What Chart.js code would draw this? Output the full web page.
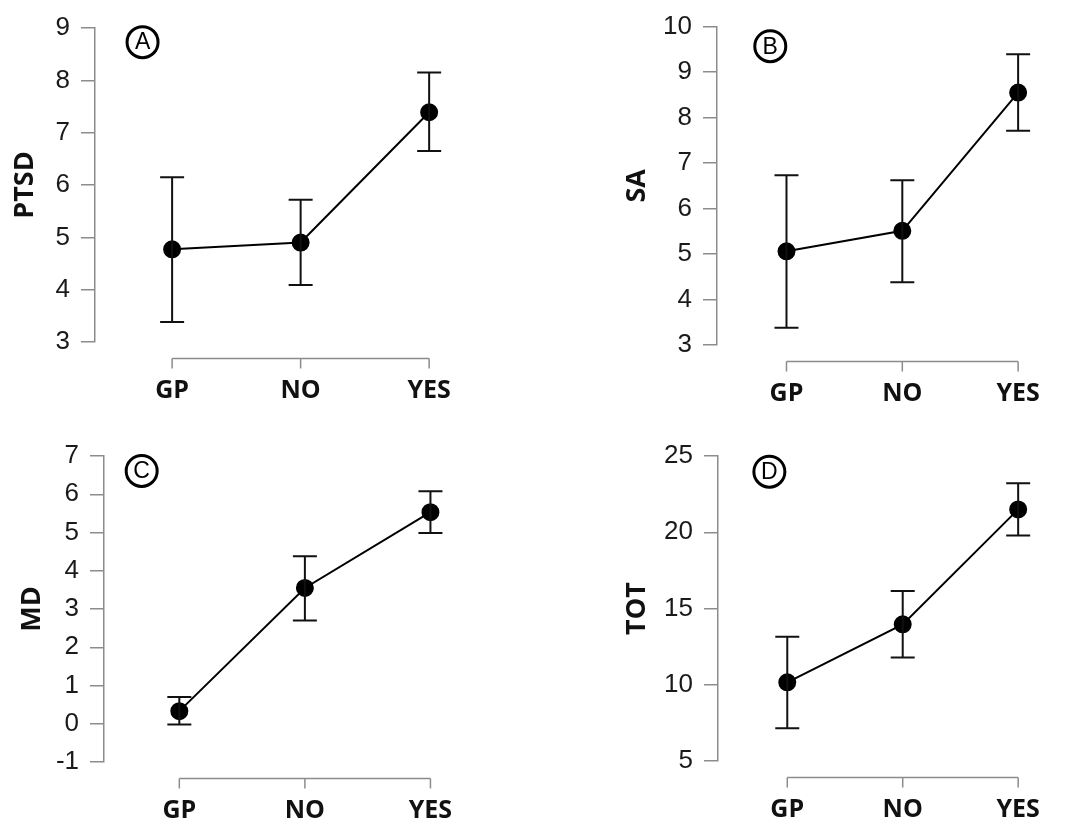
<!DOCTYPE html>
<html>
<head>
<meta charset="utf-8">
<script src="https://cdn.jsdelivr.net/npm/chart.js@4.4.1/dist/chart.umd.min.js"></script>
<style>
  body { margin: 0; background: #fff; }
  #wrap { position: relative; width: 1075px; height: 823px; }
  #wrap canvas { position: absolute; left: 0; top: 0; }
</style>
</head>
<body>
<div id="wrap">
  <canvas id="cA" width="1075" height="823"></canvas>
  <canvas id="cB" width="1075" height="823"></canvas>
  <canvas id="cC" width="1075" height="823"></canvas>
  <canvas id="cD" width="1075" height="823"></canvas>
</div>
<script>
// groups on the x axis
const groups = ["GP", "NO", "YES"];

// means and error bar ends
const ptsdMean = [4.77, 4.90, 7.39];
const ptsdLow  = [3.38, 4.09, 6.65];
const ptsdHigh = [6.15, 5.72, 8.15];

const saMean = [5.06, 5.51, 8.55];
const saLow  = [3.38, 4.38, 7.71];
const saHigh = [6.73, 6.62, 9.39];

const mdMean = [0.33, 3.55, 5.53];
const mdLow  = [-0.02, 2.70, 4.99];
const mdHigh = [0.70, 4.38, 6.08];

const totMean = [10.16, 13.96, 21.50];
const totLow  = [7.14, 11.78, 19.78];
const totHigh = [13.15, 16.15, 23.21];

// y axis ranges (min, max, step)
const ptsdTicks = [3, 9, 1];
const saTicks = [3, 10, 1];
const mdTicks = [-1, 7, 1];
const totTicks = [5, 25, 5];

const AXIS_GREY = "#8c8c8c";

// plot box of each panel on the page (left, right, top, bottom) and where things sit
const panels = [
  { id: "cA", title: "PTSD", tag: "A", mean: ptsdMean, lo: ptsdLow, hi: ptsdHigh, ticks: ptsdTicks,
    box: [95, 442, 28, 342], titleX: 25, tagAt: [-0.23, 8.73] },
  { id: "cB", title: "SA", tag: "B", mean: saMean, lo: saLow, hi: saHigh, ticks: saTicks,
    box: [717, 1043, 24, 345], titleX: 637, tagAt: [-0.14, 9.57] },
  { id: "cC", title: "MD", tag: "C", mean: mdMean, lo: mdLow, hi: mdHigh, ticks: mdTicks,
    box: [104, 443, 456, 762], titleX: 32, tagAt: [-0.30, 6.61] },
  { id: "cD", title: "TOT", tag: "D", mean: totMean, lo: totLow, hi: totHigh, ticks: totTicks,
    box: [718, 1044, 456, 761], titleX: 637, tagAt: [-0.155, 23.97] }
];

// error bars, the detached x axis and the panel letter
const rBits = {
  id: "rBits",
  afterDatasetsDraw(chart, args, opts) {
    const ctx = chart.ctx;
    const xs = chart.scales.x, ys = chart.scales.y;
    const area = chart.chartArea;
    ctx.save();

    // error bars
    ctx.strokeStyle = "#111";
    ctx.lineWidth = 2;
    for (let i = 0; i < groups.length; i++) {
      const x = xs.getPixelForValue(i);
      const yl = ys.getPixelForValue(opts.lo[i]);
      const yh = ys.getPixelForValue(opts.hi[i]);
      ctx.beginPath();
      ctx.moveTo(x, yl); ctx.lineTo(x, yh);
      ctx.moveTo(x - 12, yl); ctx.lineTo(x + 12, yl);
      ctx.moveTo(x - 12, yh); ctx.lineTo(x + 12, yh);
      ctx.stroke();
    }

    // x axis, R style, below the plot
    const ay = Math.round(area.bottom + 16) + 0.5;
    const x0 = xs.getPixelForValue(0);
    const x1 = xs.getPixelForValue(groups.length - 1);
    ctx.strokeStyle = AXIS_GREY;
    ctx.lineWidth = 1.5;
    ctx.beginPath();
    ctx.moveTo(x0, ay); ctx.lineTo(x1, ay);
    for (let i = 0; i < groups.length; i++) {
      const x = xs.getPixelForValue(i);
      ctx.moveTo(x, ay); ctx.lineTo(x, ay + 10);
    }
    ctx.stroke();

    // circled panel letter
    const cx = xs.getPixelForValue(opts.tagAt[0]);
    const cy = ys.getPixelForValue(opts.tagAt[1]);
    ctx.strokeStyle = "#000";
    ctx.lineWidth = 3;
    ctx.beginPath();
    ctx.arc(cx, cy, 15.5, 0, Math.PI * 2);
    ctx.stroke();
    ctx.fillStyle = "#000";
    ctx.font = "23px 'Liberation Sans'";
    ctx.textAlign = "center";
    ctx.textBaseline = "middle";
    ctx.fillText(opts.tag, cx, cy + 1);
    ctx.restore();
  }
};

panels.forEach(function (p) {
  const [left, right, top, bottom] = p.box;
  const titleSize = 27;
  new Chart(document.getElementById(p.id), {
    type: "line",
    data: {
      datasets: [{
        data: p.mean.map((v, i) => ({ x: i, y: v })),
        borderColor: "#000",
        borderWidth: 2,
        pointRadius: 8,
        pointBackgroundColor: "#000",
        pointBorderColor: "#000",
        tension: 0
      }]
    },
    options: {
      responsive: false,
      animation: false,
      events: [],
      layout: { padding: { left: 0, top: top, right: 1075 - right, bottom: 0 } },
      plugins: {
        legend: { display: false },
        tooltip: { enabled: false },
        rBits: { lo: p.lo, hi: p.hi, tag: p.tag, tagAt: p.tagAt }
      },
      scales: {
        x: {
          type: "linear",
          min: -0.6,
          max: 2.1,
          afterFit: function (s) { s.height = 823 - bottom; },
          afterBuildTicks: function (s) { s.ticks = groups.map((g, i) => ({ value: i })); },
          grid: { display: false, drawTicks: false },
          border: { display: false },
          ticks: {
            padding: 34,
            color: "#111",
            font: { family: "'Open Sans'", size: 25, weight: "bold" },
            callback: function (v) { return groups[v]; }
          }
        },
        y: {
          min: p.ticks[0],
          max: p.ticks[1],
          afterFit: function (s) { s.width = left; },
          grid: { drawOnChartArea: false, drawTicks: true, tickLength: 14, color: AXIS_GREY, lineWidth: 1.5 },
          border: { display: true, color: AXIS_GREY, width: 1.5 },
          ticks: {
            stepSize: p.ticks[2],
            padding: 11,
            color: "#1a1a1a",
            font: { family: "'Liberation Sans'", size: 26 }
          },
          title: {
            display: true,
            text: p.title,
            color: "#111",
            font: { family: "'Open Sans'", size: titleSize, weight: "bold" },
            padding: { top: p.titleX - titleSize * 1.2 / 2, bottom: 0 }
          }
        }
      }
    },
    plugins: [rBits]
  });
});
</script>
</body>
</html>
